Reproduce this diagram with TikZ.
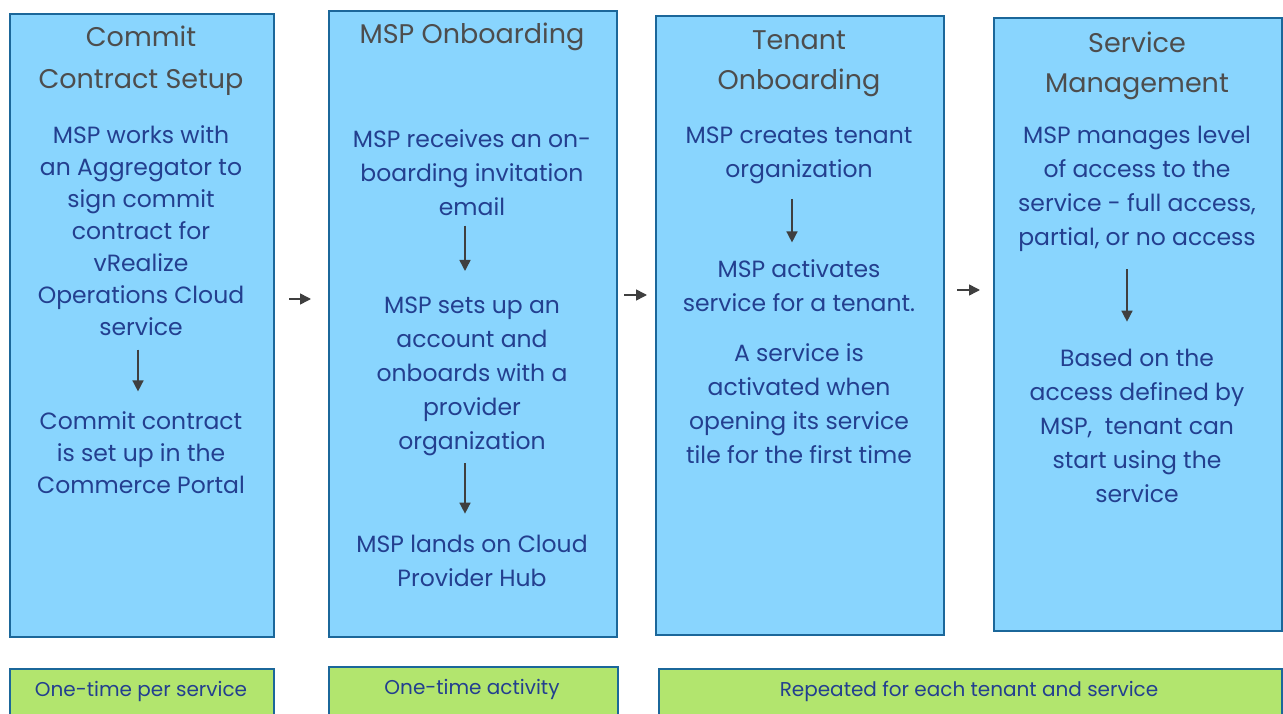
\documentclass[tikz,border=0pt]{standalone}
\usepackage{fontspec}
\setmainfont{Poppins}
\usetikzlibrary{positioning, arrows.meta}
\definecolor{vmblue}{HTML}{89D5FE}
\definecolor{vmline}{HTML}{1B679A}
\definecolor{vmgreen}{HTML}{B2E56E}
\definecolor{titlegray}{HTML}{4D4D4D}
\definecolor{bodyblue}{HTML}{233F8F}
\definecolor{arrowgray}{HTML}{3F3F3F}
\tikzstyle{bblock} = [rectangle, draw=vmline, line width=2pt, fill=vmblue,
anchor=north west, inner sep=0pt]
\tikzstyle{gblock} = [rectangle, draw=vmline, line width=2pt, fill=vmgreen,
anchor=north west, inner sep=0pt, minimum height=60pt]
\tikzstyle{title} = [text=titlegray, align=center, font=\fontsize{27}{40}\selectfont]
\tikzstyle{body} = [text=bodyblue, align=center, font=\fontsize{23.5}{34}\selectfont]
\tikzstyle{note} = [text=bodyblue, font=\fontsize{20}{22}\selectfont]
\tikzstyle{arrow} = [line width=1.5pt, draw=arrowgray, -{Triangle[length=11pt,width=11pt]}]

\begin{document}
\begin{tikzpicture}[x=1pt, y=-1pt]
        \useasboundingbox (0,0) rectangle (1283,714);
        % the four phases
        \node (Commit) [bblock, minimum width=264pt, minimum height=623pt] at (9,13) {};
        \node (MSPOn) [bblock, minimum width=288pt, minimum height=626pt] at (328,10) {};
        \node (TenantOn) [bblock, minimum width=288pt, minimum height=619pt] at (655,15) {};
        \node (ServMgmt) [bblock, minimum width=288pt, minimum height=613pt] at (993,17) {};

        \node (CommitT) [title, font=\fontsize{27}{42}\selectfont] at (141,61) {Commit\\Contract Setup};
        \node (MSPOnT) [title] at (472,37) {MSP Onboarding};
        \node (TenantOnT) [title] at (799,63.5) {Tenant\\Onboarding};
        \node (ServMgmtT) [title] at (1137,65.5) {Service\\Management};

        \node (CommitA) [body, font=\fontsize{23.5}{32}\selectfont] at (141,231) {MSP works with\\an Aggregator to\\sign commit\\contract for\\vRealize\\Operations Cloud\\service};
        \node (CommitB) [body, font=\fontsize{23.5}{32}\selectfont] at (141,453) {Commit contract\\is set up in the\\Commerce Portal};

        \node (MSPOnA) [body] at (472,173) {MSP receives an on-\\boarding invitation\\email};
        \node (MSPOnB) [body] at (472,376) {MSP sets up an\\account and\\onboards with a\\provider\\organization};
        \node (MSPOnC) [body] at (472,561) {MSP lands on Cloud\\Provider Hub};

        \node (TenantOnA) [body] at (799,155) {MSP creates tenant\\organization};
        \node (TenantOnB) [body] at (799,286) {MSP activates\\service for a tenant.};
        \node (TenantOnC) [body] at (799,404) {A service is\\activated when\\opening its service\\tile for the first time};

        \node (ServMgmtA) [body] at (1137,189) {MSP manages level\\of access to the\\service - full access,\\partial, or no access};
        \node (ServMgmtB) [body] at (1137,426) {Based on the\\access defined by\\MSP,\ \ tenant can\\start using the\\service};

        % how often
        \node (OnceServ) [gblock, minimum width=264pt] at (9,668) {};
        \node (OnceAct) [gblock, minimum width=289pt] at (328,666) {};
        \node (Repeat) [gblock, minimum width=623pt] at (658,668) {};
        \node [note] at (141,691) {One-time per service};
        \node [note] at (472,689) {One-time activity};
        \node [note] at (969,691) {Repeated for each tenant and service};

        \draw [arrow, shorten <=10pt, shorten >=17pt] ([xshift=-3pt]CommitA.south) -- ([xshift=-3pt]CommitB.north);
        \draw [arrow, shorten <=6pt, shorten >=22pt] ([xshift=-7pt]MSPOnA.south) -- ([xshift=-7pt]MSPOnB.north);
        \draw [arrow, shorten <=4pt, shorten >=18pt] ([xshift=-7pt]MSPOnB.south) -- ([xshift=-7pt]MSPOnC.north);
        \draw [arrow, shorten <=12pt, shorten >=14pt] ([xshift=-7pt]TenantOnA.south) -- ([xshift=-7pt]TenantOnB.north);
        \draw [arrow, shorten <=14pt, shorten >=24pt] ([xshift=-10pt]ServMgmtA.south) -- ([xshift=-10pt]ServMgmtB.north);

        \draw [arrow, shorten <=14pt, shorten >=17pt] ([yshift=26.5pt]Commit.east) -- ([yshift=25pt]MSPOn.west);
        \draw [arrow, shorten <=6pt, shorten >=8pt] ([yshift=29pt]MSPOn.east) -- ([yshift=30.5pt]TenantOn.west);
        \draw [arrow, shorten <=12pt, shorten >=13pt] ([yshift=35.5pt]TenantOn.east) -- ([yshift=34.5pt]ServMgmt.west);
\end{tikzpicture}
\end{document}
